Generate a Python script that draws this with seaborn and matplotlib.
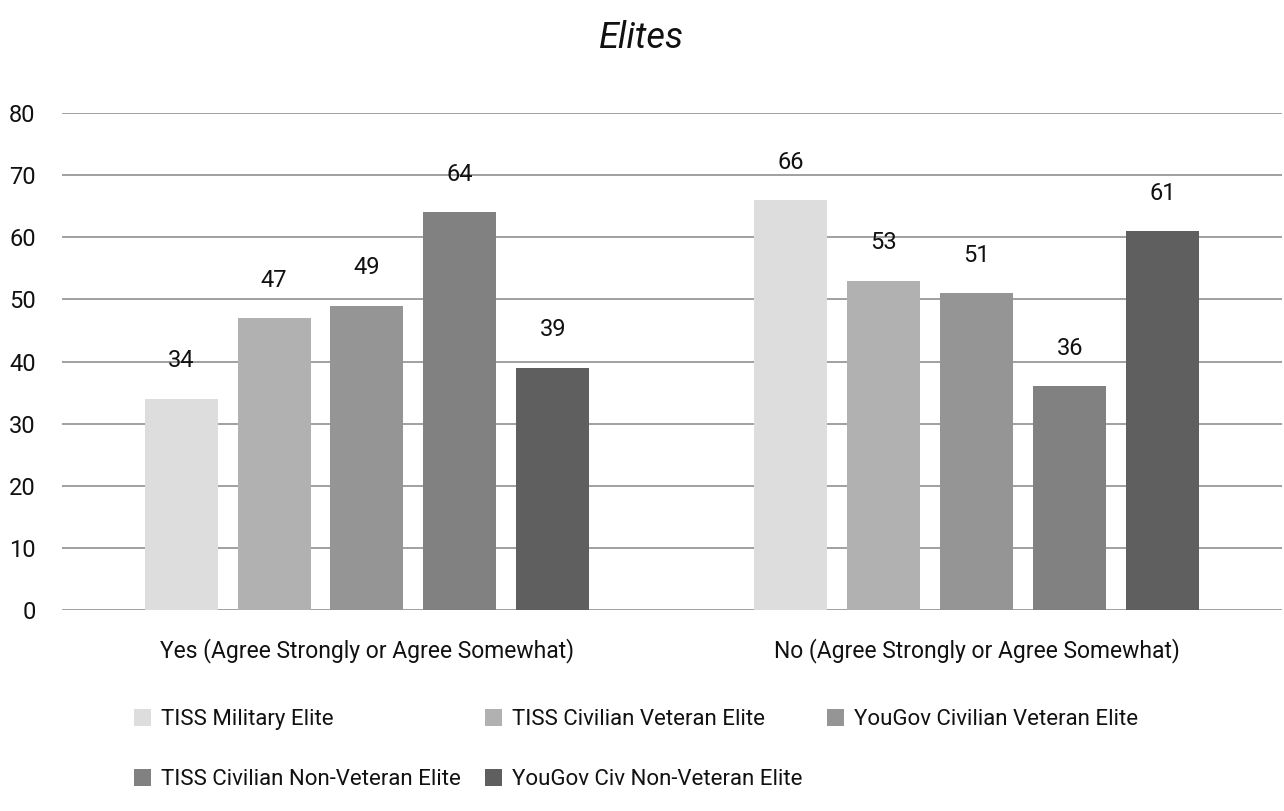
import pandas as pd
import numpy as np
import matplotlib.pyplot as plt
import seaborn as sns

categories = ["Yes (Agree Strongly or Agree Somewhat)", "No (Agree Strongly or Agree Somewhat)"]
series = ["TISS Military Elite", "TISS Civilian Veteran Elite", "YouGov Civilian Veteran Elite",
          "TISS Civilian Non-Veteran Elite", "YouGov Civ Non-Veteran Elite"]
yes_values = [34, 47, 49, 64, 39]
no_values = [66, 53, 51, 36, 61]
colors = ["#dddddd", "#b1b1b1", "#959595", "#818181", "#5f5f5f"]

df = pd.DataFrame({
    "category": [categories[0]] * 5 + [categories[1]] * 5,
    "series": series + series,
    "value": yes_values + no_values,
})

sns.set_theme(style="white")
plt.rcParams['font.family'] = ['Roboto', 'DejaVu Sans']

fig = plt.figure(figsize=(12.84, 8.11), dpi=100)
ax = fig.add_axes([0.0483, 0.2478, 0.95, 0.6129])

sns.barplot(data=df, x="category", y="value", hue="series", palette=colors,
            order=categories, hue_order=series, width=0.762, gap=0.215,
            saturation=1, linewidth=0, ax=ax, legend=True)

for c in ax.containers:
    ax.bar_label(c, fmt="%d", padding=19, fontsize=17, color="#111111")

ax.set_ylim(0, 80)
ax.set_yticks(np.arange(0, 81, 10))
ax.yaxis.grid(True, color="#a0a0a0", lw=1.4)
ax.set_axisbelow(True)
for s in ax.spines.values():
    s.set_visible(False)
ax.tick_params(axis="y", labelsize=17, pad=19, length=0, labelcolor="#111111")
ax.tick_params(axis="x", labelsize=16.5, pad=20, length=0, labelcolor="#111111")
ax.set_xlabel("")
ax.set_ylabel("")

# legend fills row by row in the reference
handles, labels = ax.get_legend_handles_labels()
ax.get_legend().remove()
order = [0, 3, 1, 4, 2]
fig.legend([handles[i] for i in order], [labels[i] for i in order], ncol=3,
           loc="upper left", bbox_to_anchor=(0.089, 0.150), frameon=False,
           fontsize=16, handlelength=0.75, handleheight=0.75, handletextpad=0.45,
           columnspacing=1.1, labelspacing=1.75, labelcolor="#111111")

fig.suptitle("Elites", y=0.975, fontsize=26, style="italic", color="#111111")

plt.savefig("out.png", dpi=100)
